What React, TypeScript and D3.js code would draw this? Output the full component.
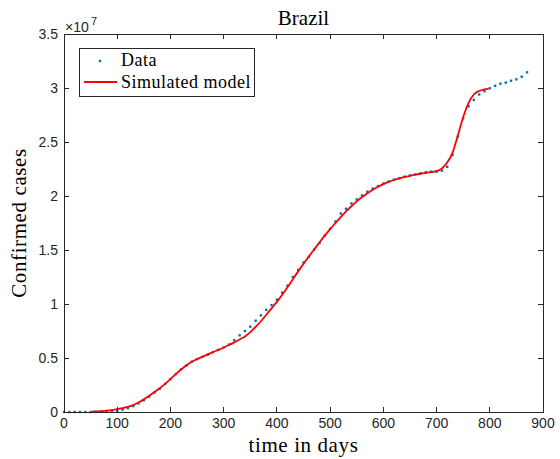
import React from "react";
import * as d3 from "d3";

// Reported cumulative cases (millions), sampled every 10 days
const dataDays = [
  0, 10, 20, 30, 40, 50, 60, 70, 80, 90,
  100, 110, 120, 130, 140, 150, 160, 170, 180, 190,
  200, 210, 220, 230, 240, 250, 260, 270, 280, 290,
  300, 310, 320, 330, 340, 350, 360, 370, 380, 390,
  400, 410, 420, 430, 440, 450, 460, 470, 480, 490,
  500, 510, 520, 530, 540, 550, 560, 570, 580, 590,
  600, 610, 620, 630, 640, 650, 660, 670, 680, 690,
  700, 710, 720, 730, 740, 750, 760, 770, 780, 790,
  800, 810, 820, 830, 840, 850, 860, 870,
];
const dataCases = [
  0, 0, 0, 0, 0, 0, 0.005, 0.01, 0.03, 0.06,
  0.12, 0.22, 0.35, 0.55, 0.8, 1.08, 1.42, 1.8, 2.15, 2.6,
  3.05, 3.5, 3.95, 4.3, 4.65, 4.9, 5.1, 5.3, 5.55, 5.75,
  5.97, 6.25, 6.65, 7.1, 7.5, 7.9, 8.45, 8.95, 9.45, 9.9,
  10.4, 11.05, 11.7, 12.5, 13.15, 13.85, 14.36, 15.04, 15.63, 16.34,
  16.96, 17.64, 18.38, 18.82, 19.31, 19.68, 20.05, 20.4, 20.68, 20.92,
  21.15, 21.33, 21.51, 21.63, 21.79, 21.9, 22.0, 22.1, 22.2, 22.25,
  22.25, 22.35, 22.7, 23.8, 25.5, 27.2, 28.3, 28.9, 29.4, 29.7,
  29.97, 30.2, 30.4, 30.5, 30.67, 30.8, 31.05, 31.45,
];

// Simulated model output (millions)
const modelDays = [
  52, 60, 70, 80, 90, 100, 110, 120, 130, 140,
  150, 160, 170, 180, 190, 200, 210, 220, 230, 240,
  250, 260, 270, 280, 290, 300, 310, 320, 330, 340,
  350, 360, 370, 380, 390, 400, 410, 420, 430, 440,
  450, 460, 470, 480, 490, 500, 510, 520, 530, 540,
  550, 560, 570, 580, 590, 600, 610, 620, 630, 640,
  650, 660, 670, 680, 690, 700, 710, 720, 730, 740,
  750, 760, 770, 780, 790, 798,
];
const modelCases = [
  0.04, 0.05, 0.08, 0.12, 0.18, 0.26, 0.36, 0.48, 0.64, 0.88,
  1.17, 1.5, 1.85, 2.2, 2.6, 3.05, 3.5, 3.93, 4.33, 4.65,
  4.9, 5.12, 5.33, 5.55, 5.75, 5.97, 6.2, 6.45, 6.72, 7.0,
  7.4, 7.88, 8.4, 9.0, 9.6, 10.2, 10.85, 11.55, 12.3, 13.02,
  13.72, 14.4, 15.05, 15.7, 16.33, 16.93, 17.5, 18.05, 18.57, 19.05,
  19.5, 19.9, 20.26, 20.58, 20.86, 21.1, 21.3, 21.48, 21.63, 21.76,
  21.87, 21.97, 22.06, 22.14, 22.22, 22.3, 22.55, 23.1, 24.0, 25.6,
  27.3, 28.6, 29.4, 29.72, 29.88, 29.95,
];

const xTicks = [0, 100, 200, 300, 400, 500, 600, 700, 800, 900];
// y values are in millions; labels are in units of 1e7
const yTicks = [0, 5, 10, 15, 20, 25, 30, 35];
const yTickLabels = ["0", "0.5", "1", "1.5", "2", "2.5", "3", "3.5"];

const W = 560;
const H = 459;
const M = { left: 64, right: 17, top: 34, bottom: 47 };

const AXIS = "#262626";
const BLUE = "#0072BD";
const RED = "#FF0000";
const SERIF = "'Liberation Serif', 'Times New Roman', serif";
const SANS = "'Liberation Sans', Arial, Helvetica, sans-serif";

export default function App() {
  const x = d3.scaleLinear().domain([0, 900]).range([M.left, W - M.right]);
  const y = d3.scaleLinear().domain([0, 35]).range([H - M.bottom, M.top]);
  const x0 = x(0);
  const x1 = x(900);
  const y0 = y(0);
  const y1 = y(35);

  const modelPts: [number, number][] = modelDays.map((d, i) => [d, modelCases[i]]);
  const line = d3
    .line<[number, number]>()
    .x((d) => x(d[0]))
    .y((d) => y(d[1]))
    .curve(d3.curveMonotoneX);

  const tick = 5;
  const legX = 79.5;
  const legY = 48.5;

  return (
    <svg
      width={W}
      height={H}
      style={{ position: "absolute", left: 0, top: 0, background: "#fff" }}
    >
      <rect x={0} y={0} width={W} height={H} fill="#fff" />

      {/* data points */}
      <g fill={BLUE}>
        {dataDays.map((d, i) => (
          <rect
            key={i}
            x={x(d) - 1.2}
            y={y(dataCases[i]) - 1.2}
            width={2.4}
            height={2.4}
          />
        ))}
      </g>

      {/* model curve */}
      <path d={line(modelPts) || ""} fill="none" stroke={RED} strokeWidth={1.8} />

      {/* axes box */}
      <g stroke={AXIS} strokeWidth={1} fill="none" shapeRendering="crispEdges">
        <rect x={x0} y={y1} width={x1 - x0} height={y0 - y1} />
        {xTicks.map((t) => (
          <g key={"xt" + t}>
            <line x1={x(t)} x2={x(t)} y1={y0} y2={y0 - tick} />
            <line x1={x(t)} x2={x(t)} y1={y1} y2={y1 + tick} />
          </g>
        ))}
        {yTicks.map((t) => (
          <g key={"yt" + t}>
            <line x1={x0} x2={x0 + tick} y1={y(t)} y2={y(t)} />
            <line x1={x1} x2={x1 - tick} y1={y(t)} y2={y(t)} />
          </g>
        ))}
      </g>

      {/* tick labels */}
      <g fill={AXIS} fontFamily={SANS} fontSize={14}>
        {xTicks.map((t) => (
          <text key={"xl" + t} x={x(t)} y={y0 + 16} textAnchor="middle">
            {t}
          </text>
        ))}
        {yTicks.map((t, i) => (
          <text key={"yl" + t} x={x0 - 6} y={y(t) + 5} textAnchor="end">
            {yTickLabels[i]}
          </text>
        ))}
      </g>
      <text x={x0 + 1} y={y1 - 2} fill={AXIS} fontFamily={SANS} fontSize={14}>
        ×10
      </text>
      <text x={x0 + 27} y={y1 - 9} fill={AXIS} fontFamily={SANS} fontSize={11}>
        7
      </text>

      {/* title and axis labels */}
      <text
        x={(x0 + x1) / 2}
        y={y1 - 9}
        textAnchor="middle"
        fontFamily={SERIF}
        fontSize={21}
        fill="#000"
      >
        Brazil
      </text>
      <text
        x={(x0 + x1) / 2}
        y={H - 7}
        textAnchor="middle"
        fontFamily={SERIF}
        fontSize={21}
        letterSpacing={0.6}
        fill="#000"
      >
        time in days
      </text>
      <text
        transform={`translate(26,${(y0 + y1) / 2}) rotate(-90)`}
        textAnchor="middle"
        fontFamily={SERIF}
        fontSize={21}
        letterSpacing={0.6}
        fill="#000"
      >
        Confirmed cases
      </text>

      {/* legend */}
      <g>
        <rect
          x={legX}
          y={legY}
          width={175}
          height={47.5}
          fill="#fff"
          stroke={AXIS}
          strokeWidth={1}
          shapeRendering="crispEdges"
        />
        <rect x={100 - 1.2} y={61 - 1.2} width={2.4} height={2.4} fill={BLUE} />
        <line x1={84} x2={117} y1={82} y2={82} stroke={RED} strokeWidth={1.8} />
        <text x={121} y={66} fontFamily={SERIF} fontSize={18} letterSpacing={0.5} fill="#000">
          Data
        </text>
        <text x={121} y={87.5} fontFamily={SERIF} fontSize={18} letterSpacing={0.5} fill="#000">
          Simulated model
        </text>
      </g>
    </svg>
  );
}
